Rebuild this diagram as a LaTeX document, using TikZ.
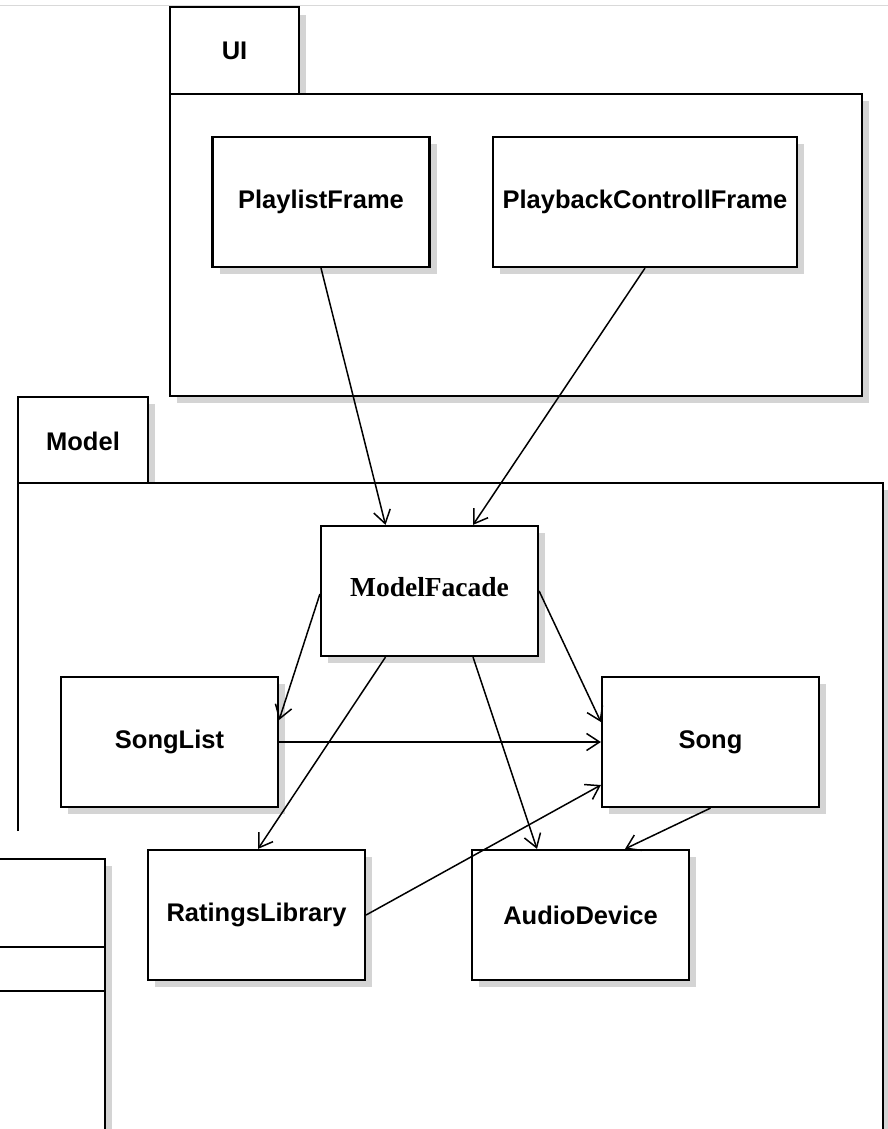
\documentclass[tikz,border=0pt]{standalone}
\usepackage{fontspec}
\setmainfont{Liberation Serif}
\newfontfamily\lsans{Liberation Sans}
\usetikzlibrary{arrows.meta,shadows}
\begin{document}
\begin{tikzpicture}[x=1pt,y=-1pt,
  shd/.style={fill=black!17},
  pkgline/.style={line width=2.2pt},
  lbl/.style={font=\lsans\bfseries\fontsize{25.5}{30}\selectfont, inner sep=0pt},
  cls/.style={draw, line width=2.2pt, fill=white, minimum width=217pt, minimum height=130pt,
    inner sep=0pt, font=\lsans\bfseries\fontsize{25.5}{30}\selectfont,
    drop shadow={shadow xshift=7pt, shadow yshift=-7pt, fill=black!17, opacity=1}},
  dep/.style={line width=1.5pt, -{Straight Barb[length=13pt,width=17pt]}}]
\useasboundingbox (0,0) rectangle (888,1129);
\clip (0,0) rectangle (888,1129);
\fill[white] (0,0) rectangle (888,1129);
\draw[black!15, line width=1pt] (0,6) -- (888,6);

% UI package
\fill[shd] (177,15) rectangle (306,94);
\fill[shd] (177,101) rectangle (869,403);
\draw[pkgline, fill=white] (170,7) rectangle (299,94);
\draw[pkgline, fill=white] (170,94) rectangle (862,396);
\node[lbl] (uitab) at (234.5,51) {UI};

% Model package
\fill[shd] (25,404) rectangle (155,483);
\fill[shd] (25,490) rectangle (890,1140);
\draw[pkgline, fill=white] (18,397) rectangle (148,483);
\fill[white] (18,483) rectangle (883,1140);
\draw[pkgline] (18,831) -- (18,483) -- (883,483) -- (883,1140);
\node[lbl] (modeltab) at (83,441) {Model};

% bottom-left element
\fill[shd] (0,866) rectangle (112,1140);
\draw[pkgline, fill=white] (-10,859) rectangle (105,1140);
\draw[pkgline] (-10,947) -- (105,947);
\draw[pkgline] (-10,991) -- (105,991);

% classes
\node[cls] (PF) at (321,202) {PlaylistFrame};
\node[cls, minimum width=304pt] (PCF) at (645,202) {PlaybackControllFrame};
\node[cls, font=\bfseries\fontsize{27.5}{32}\selectfont] (MF) at (429.5,591) {\raisebox{8pt}{ModelFacade}};
\node[cls] (SL) at (169.5,742) {SongList};
\node[cls] (S) at (710.5,742) {Song};
\node[cls] (RL) at (256.5,915) {RatingsLibrary};
\node[cls] (AD) at (580.5,915) {AudioDevice};

% dependencies
\draw[dep] (PF.south) -- ([xshift=-44pt]MF.north);
\draw[dep] (PCF.south) -- ([xshift=43.5pt]MF.north);
\draw[dep] ([yshift=-3pt]MF.west) -- ([yshift=22pt]SL.east);
\draw[dep] (MF.east) -- ([yshift=20pt]S.west);
\draw[dep] ([xshift=-44pt]MF.south) -- ([xshift=1.5pt]RL.north);
\draw[dep] ([xshift=43.5pt]MF.south) -- ([xshift=-43.5pt]AD.north);
\draw[dep] (SL.east) -- (S.west);
\draw[dep] (RL.east) -- ([yshift=-43pt]S.west);
\draw[dep] (S.south) -- ([xshift=44.5pt]AD.north);
\end{tikzpicture}
\end{document}
